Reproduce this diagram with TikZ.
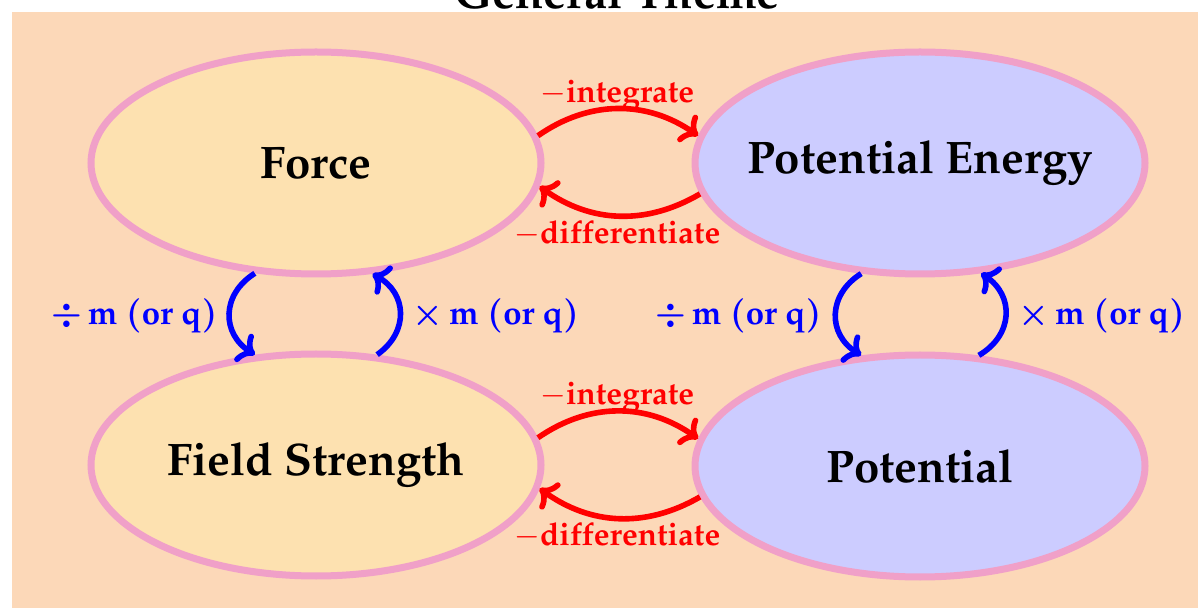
\documentclass[tikz,border=0pt]{standalone}
\usepackage[T1]{fontenc}
\usepackage{mathpazo}
\usetikzlibrary{shapes.geometric,arrows.meta}
\definecolor{bgc}{HTML}{FCD8B8}
\definecolor{pinkc}{HTML}{F0A0C8}
\definecolor{forcec}{HTML}{FDE1B0}
\definecolor{potc}{HTML}{CCCCFF}
\begin{document}
\begin{tikzpicture}[x=0.5pt,y=-0.5pt,
  bubble/.style={ellipse,draw=pinkc,line width=3.5pt,minimum width=225pt,minimum height=111pt,inner sep=0pt,font=\fontsize{22.8}{27}\selectfont\bfseries},
  redarr/.style={->,red,line width=2.8pt},
  bluarr/.style={->,blue,line width=2.8pt},
  redlab/.style={red,font=\fontsize{15.8}{18}\selectfont\bfseries,inner sep=0pt},
  blulab/.style={blue,font=\fontsize{16.5}{18}\selectfont\boldmath,inner sep=0pt}]
\useasboundingbox (0,0) rectangle (1198,608);
\fill[bgc] (12,12) rectangle (1200,610);
\node[anchor=base,font=\fontsize{23}{27}\selectfont\bfseries] (title) at (617,9) {General Theme};
\node[bubble,fill=forcec] (F) at (316,163) {\makebox[0pt]{Force}};
\node[bubble,fill=potc] (PE) at (920,163) {\makebox[0pt]{Potential Energy}};
\node[bubble,fill=forcec] (FS) at (316,465) {\makebox[0pt]{Field Strength}};
\node[bubble,fill=potc] (P) at (920,466) {\makebox[0pt]{Potential}};
% red arrows
\draw[redarr] (F.7.5) to[bend left=35] (PE.173.5);
\draw[redarr] (PE.188) to[bend left=33] (F.-6.3);
\draw[redarr] (FS.7.5) to[bend left=35] (P.173.5);
\draw[redarr] (P.188) to[bend left=33] (FS.-6.3);
\node[redlab] (l1) at (617,95) {$-$integrate};
\node[redlab] (l2) at (617,233) {$-$differentiate};
\node[redlab] (l3) at (617,397) {$-$integrate};
\node[redlab] (l4) at (617,535) {$-$differentiate};
% blue arrows
\draw[bluarr] (F.241) to[bend right=58,looseness=1.25] (FS.119);
\draw[bluarr] (FS.61.6) to[bend right=58,looseness=1.25] (F.-63);
\draw[bluarr] (PE.242.4) to[bend right=58,looseness=1.25] (P.118.5);
\draw[bluarr] (P.62) to[bend right=58,looseness=1.25] (PE.-61);
\node[blulab,anchor=east] (b1) at (218,316) {$\div\, \mathrm{m}\ (\mathrm{or}\ \mathrm{q})$};
\node[blulab,anchor=west] (b2) at (412,316) {$\times\, \mathrm{m}\ (\mathrm{or}\ \mathrm{q})$};
\node[blulab,anchor=east] (b3) at (822,316) {$\div\, \mathrm{m}\ (\mathrm{or}\ \mathrm{q})$};
\node[blulab,anchor=west] (b4) at (1018,316) {$\times\, \mathrm{m}\ (\mathrm{or}\ \mathrm{q})$};
\end{tikzpicture}
\end{document}
